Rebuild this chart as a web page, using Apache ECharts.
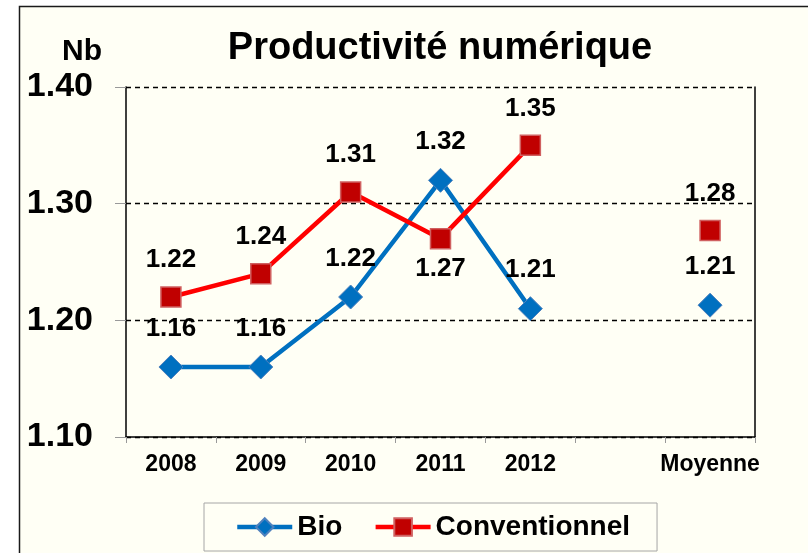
<!DOCTYPE html>
<html>
<head>
<meta charset="utf-8">
<title>Productivité numérique</title>
<script src="https://cdn.jsdelivr.net/npm/echarts@6/dist/echarts.min.js"></script>
<style>
html, body { margin: 0; padding: 0; background: #ffffff; }
#chart { width: 808px; height: 553px; }
</style>
</head>
<body>
<div id="chart"></div>
<script>
var categories = ['2008', '2009', '2010', '2011', '2012', '', 'Moyenne'];
var bioValues = [1.16, 1.16, 1.22, 1.32, 1.21, null, 1.213];
var convValues = [1.22, 1.24, 1.31, 1.27, 1.35, null, 1.277];
var bioLabels = ['1.16', '1.16', '1.22', '1.32', '1.21', '', '1.21'];
var convLabels = ['1.22', '1.24', '1.31', '1.27', '1.35', '', '1.28'];
var convBelow = [false, false, false, true, false, false, false];
var yTicks = [1.10, 1.20, 1.30, 1.40];

var FONT = '"Liberation Sans", Arial, sans-serif';
var BG = '#fffff5';

function buildData(values, labels, below) {
	var out = [];
	for (var i = 0; i < values.length; i++) {
		var item = { value: values[i], name: labels[i] };
		if (below && below[i]) {
			item.label = { position: 'bottom', distance: 6 };
		}
		out.push(item);
	}
	return out;
}

var chart = echarts.init(document.getElementById('chart'));

chart.setOption({
	animation: false,
	backgroundColor: '#ffffff',
	graphic: [
		{
			type: 'rect', z: -10, silent: true,
			shape: { x: 19.5, y: 6.5, width: 900, height: 600 },
			style: { fill: BG, stroke: '#1a1a1a', lineWidth: 1.5 }
		},
		{
			type: 'text', left: 62, top: 37,
			style: { text: 'Nb', font: 'bold 30px ' + FONT, fill: '#000' }
		}
	],
	title: {
		text: 'Productivité numérique',
		left: 440, top: 30,
		textAlign: 'center',
		padding: 0,
		textStyle: { fontFamily: FONT, fontWeight: 'bold', fontSize: 38, color: '#000' }
	},
	legend: {
		left: 204, top: 503,
		padding: [10, 27, 10, 31],
		itemGap: 31,
		itemWidth: 55,
		itemHeight: 22,
		backgroundColor: BG,
		borderColor: '#a6a6a6',
		borderWidth: 1,
		lineStyle: { width: 4.5 },
		textStyle: { fontFamily: FONT, fontWeight: 'bold', fontSize: 28, color: '#000' },
		data: ['Bio', 'Conventionnel']
	},
	grid: { left: 126, top: 87, right: 53, bottom: 116, containLabel: false },
	xAxis: {
		type: 'category',
		data: categories,
		boundaryGap: true,
		axisLine: { lineStyle: { color: '#000', width: 1.5 } },
		axisTick: { show: true, length: 6, lineStyle: { color: '#999' } },
		axisLabel: {
			margin: 16, interval: 0,
			fontFamily: FONT, fontWeight: 'bold', fontSize: 23, color: '#000'
		}
	},
	yAxis: [
		{
			type: 'value',
			min: yTicks[0], max: yTicks[yTicks.length - 1], interval: 0.1,
			axisLine: { show: true, lineStyle: { color: '#000', width: 1.5 } },
			axisTick: { show: true, length: 11, lineStyle: { color: '#999' } },
			splitLine: { show: true, lineStyle: { color: '#000', type: [5, 4], width: 1.3 } },
			axisLabel: {
				margin: 33,
				fontFamily: FONT, fontWeight: 'bold', fontSize: 34, color: '#000',
				formatter: function (v) { return v.toFixed(2); }
			}
		},
		{
			// right frame of the plot area only
			type: 'value', position: 'right',
			min: yTicks[0], max: yTicks[yTicks.length - 1], interval: 0.1,
			axisLine: { show: true, lineStyle: { color: '#000', width: 1.5 } },
			axisTick: { show: false },
			axisLabel: { show: false },
			splitLine: { show: false }
		}
	],
	series: [
		{
			name: 'Bio',
			type: 'line',
			data: buildData(bioValues, bioLabels),
			connectNulls: false,
			symbol: 'diamond',
			symbolSize: 24,
			lineStyle: { color: '#0070c0', width: 4.5 },
			itemStyle: { color: '#0070c0', borderColor: '#4f81bd', borderWidth: 1 },
			label: {
				show: true, position: 'top', distance: 13,
				formatter: function (p) { return p.name; },
				fontFamily: FONT, fontWeight: 'bold', fontSize: 26, color: '#000'
			},
			z: 3
		},
		{
			name: 'Conventionnel',
			type: 'line',
			data: buildData(convValues, convLabels, convBelow),
			connectNulls: false,
			symbol: 'rect',
			symbolSize: 20,
			lineStyle: { color: '#ff0000', width: 4.5 },
			itemStyle: { color: '#c00000', borderColor: '#d06060', borderWidth: 1.5 },
			label: {
				show: true, position: 'top', distance: 13,
				formatter: function (p) { return p.name; },
				fontFamily: FONT, fontWeight: 'bold', fontSize: 26, color: '#000'
			},
			z: 4
		}
	]
});
</script>
</body>
</html>
